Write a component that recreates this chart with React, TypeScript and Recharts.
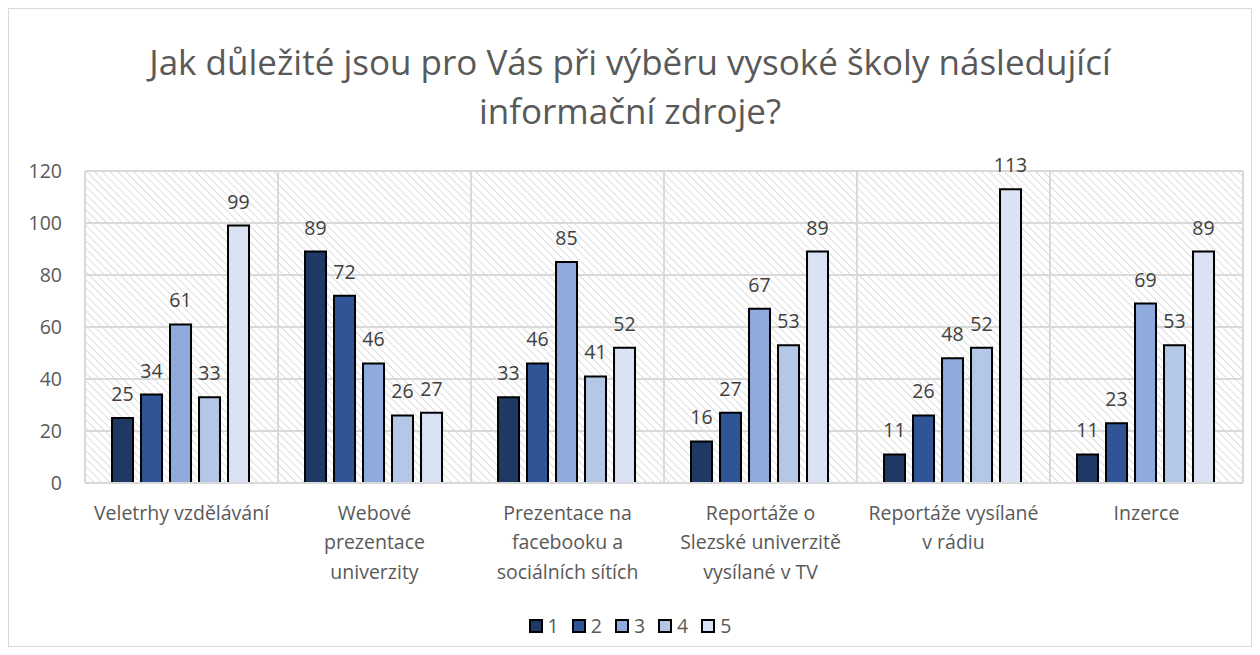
import React from 'react';
import {
  BarChart,
  Bar,
  XAxis,
  YAxis,
  CartesianGrid,
  Legend,
  LabelList,
} from 'recharts';

const categories = [
  'Veletrhy vzdělávání',
  'Webové\nprezentace\nuniverzity',
  'Prezentace na\nfacebooku a\nsociálních sítích',
  'Reportáže o\nSlezské univerzitě\nvysílané v TV',
  'Reportáže vysílané\nv rádiu',
  'Inzerce',
];

const s1 = [25, 89, 33, 16, 11, 11];
const s2 = [34, 72, 46, 27, 26, 23];
const s3 = [61, 46, 85, 67, 48, 69];
const s4 = [33, 26, 41, 53, 52, 53];
const s5 = [99, 27, 52, 89, 113, 89];

const seriesNames = ['1', '2', '3', '4', '5'];
const seriesColors = ['#203864', '#2f5597', '#8faadc', '#b4c7e7', '#dae3f3'];
const yTicks = [0, 20, 40, 60, 80, 100, 120];

const title = 'Jak důležité jsou pro Vás při výběru vysoké školy následující';
const title2 = 'informační zdroje?';

const FONT = "'Open Sans', 'Noto Sans', sans-serif";

const data = categories.map((c, i) => ({
  name: c,
  s1: s1[i],
  s2: s2[i],
  s3: s3[i],
  s4: s4[i],
  s5: s5[i],
}));

const series = [s1, s2, s3, s4, s5];

function CategoryTick(props: any) {
  const { x, y, payload } = props;
  const lines = String(payload.value).split('\n');
  return (
    <g>
      {lines.map((l, i) => (
        <text
          key={i}
          x={x}
          y={y + 27 + i * 29.5}
          textAnchor="middle"
          dominantBaseline="central"
          fill="#595959"
          fontSize={19.5}
          fontFamily={FONT}
        >
          {l}
        </text>
      ))}
    </g>
  );
}

function LegendBox() {
  return (
    <div
      style={{
        display: 'flex',
        justifyContent: 'center',
        gap: 13,
        fontFamily: FONT,
        fontSize: 19.5,
        color: '#595959',
        lineHeight: '24px',
      }}
    >
      {seriesNames.map((n, i) => (
        <div key={n} style={{ display: 'flex', alignItems: 'center', gap: 5 }}>
          <span
            style={{
              display: 'inline-block',
              width: 10,
              height: 10,
              background: seriesColors[i],
              border: '2px solid #000',
            }}
          />
          <span>{n}</span>
        </div>
      ))}
    </div>
  );
}

export default function App() {
  return (
    <div
      style={{
        position: 'relative',
        width: 1242,
        height: 637,
        border: '1px solid #d9d9d9',
        background: '#fff',
      }}
    >
      <div
        style={{
          position: 'absolute',
          top: 28,
          left: 0,
          width: 1242,
          textAlign: 'center',
          fontFamily: FONT,
          fontSize: 35,
          lineHeight: '49px',
          color: '#595959',
        }}
      >
        {title}
        <br />
        {title2}
      </div>
      <BarChart
        width={1242}
        height={637}
        data={data}
        margin={{ top: 162, right: 8, left: 16, bottom: 63 }}
        barCategoryGap="14%"
        barGap={8}
      >
        <defs>
          <pattern
            id="hatch"
            width="5.5"
            height="5.5"
            patternUnits="userSpaceOnUse"
            patternTransform="rotate(-45)"
          >
            <rect width="5.5" height="5.5" fill="#ffffff" />
            <line x1="0" y1="0" x2="0" y2="5.5" stroke="#d0d0d0" strokeWidth="1.4" />
          </pattern>
        </defs>
        <CartesianGrid
          fill="url(#hatch)"
          stroke="#d9d9d9"
          strokeWidth={2}
          verticalCoordinatesGenerator={({ offset }: any) =>
            categories.map((_, i) => offset.left + (i * offset.width) / categories.length).concat([
              offset.left + offset.width,
            ])
          }
        />
        <XAxis
          dataKey="name"
          interval={0}
          tickLine={false}
          axisLine={{ stroke: '#d9d9d9', strokeWidth: 2 }}
          tickSize={0}
          height={100}
          tick={<CategoryTick />}
        />
        <YAxis
          domain={[0, 120]}
          ticks={yTicks}
          width={60}
          axisLine={false}
          tickLine={false}
          tickSize={0}
          tickMargin={23}
          tick={{ fill: '#595959', fontSize: 19.5, fontFamily: FONT }}
        />
        <Legend
          layout="horizontal"
          verticalAlign="middle"
          content={<LegendBox />}
          wrapperStyle={{ top: 605, left: 0, width: 1242 }}
        />
        {series.map((_, i) => (
          <Bar
            key={i}
            dataKey={'s' + (i + 1)}
            name={seriesNames[i]}
            fill={seriesColors[i]}
            stroke="#000"
            strokeWidth={2}
            isAnimationActive={false}
          >
            <LabelList
              dataKey={'s' + (i + 1)}
              position="top"
              offset={17}
              fill="#404040"
              fontSize={19.5}
              fontFamily={FONT}
            />
          </Bar>
        ))}
      </BarChart>
    </div>
  );
}
